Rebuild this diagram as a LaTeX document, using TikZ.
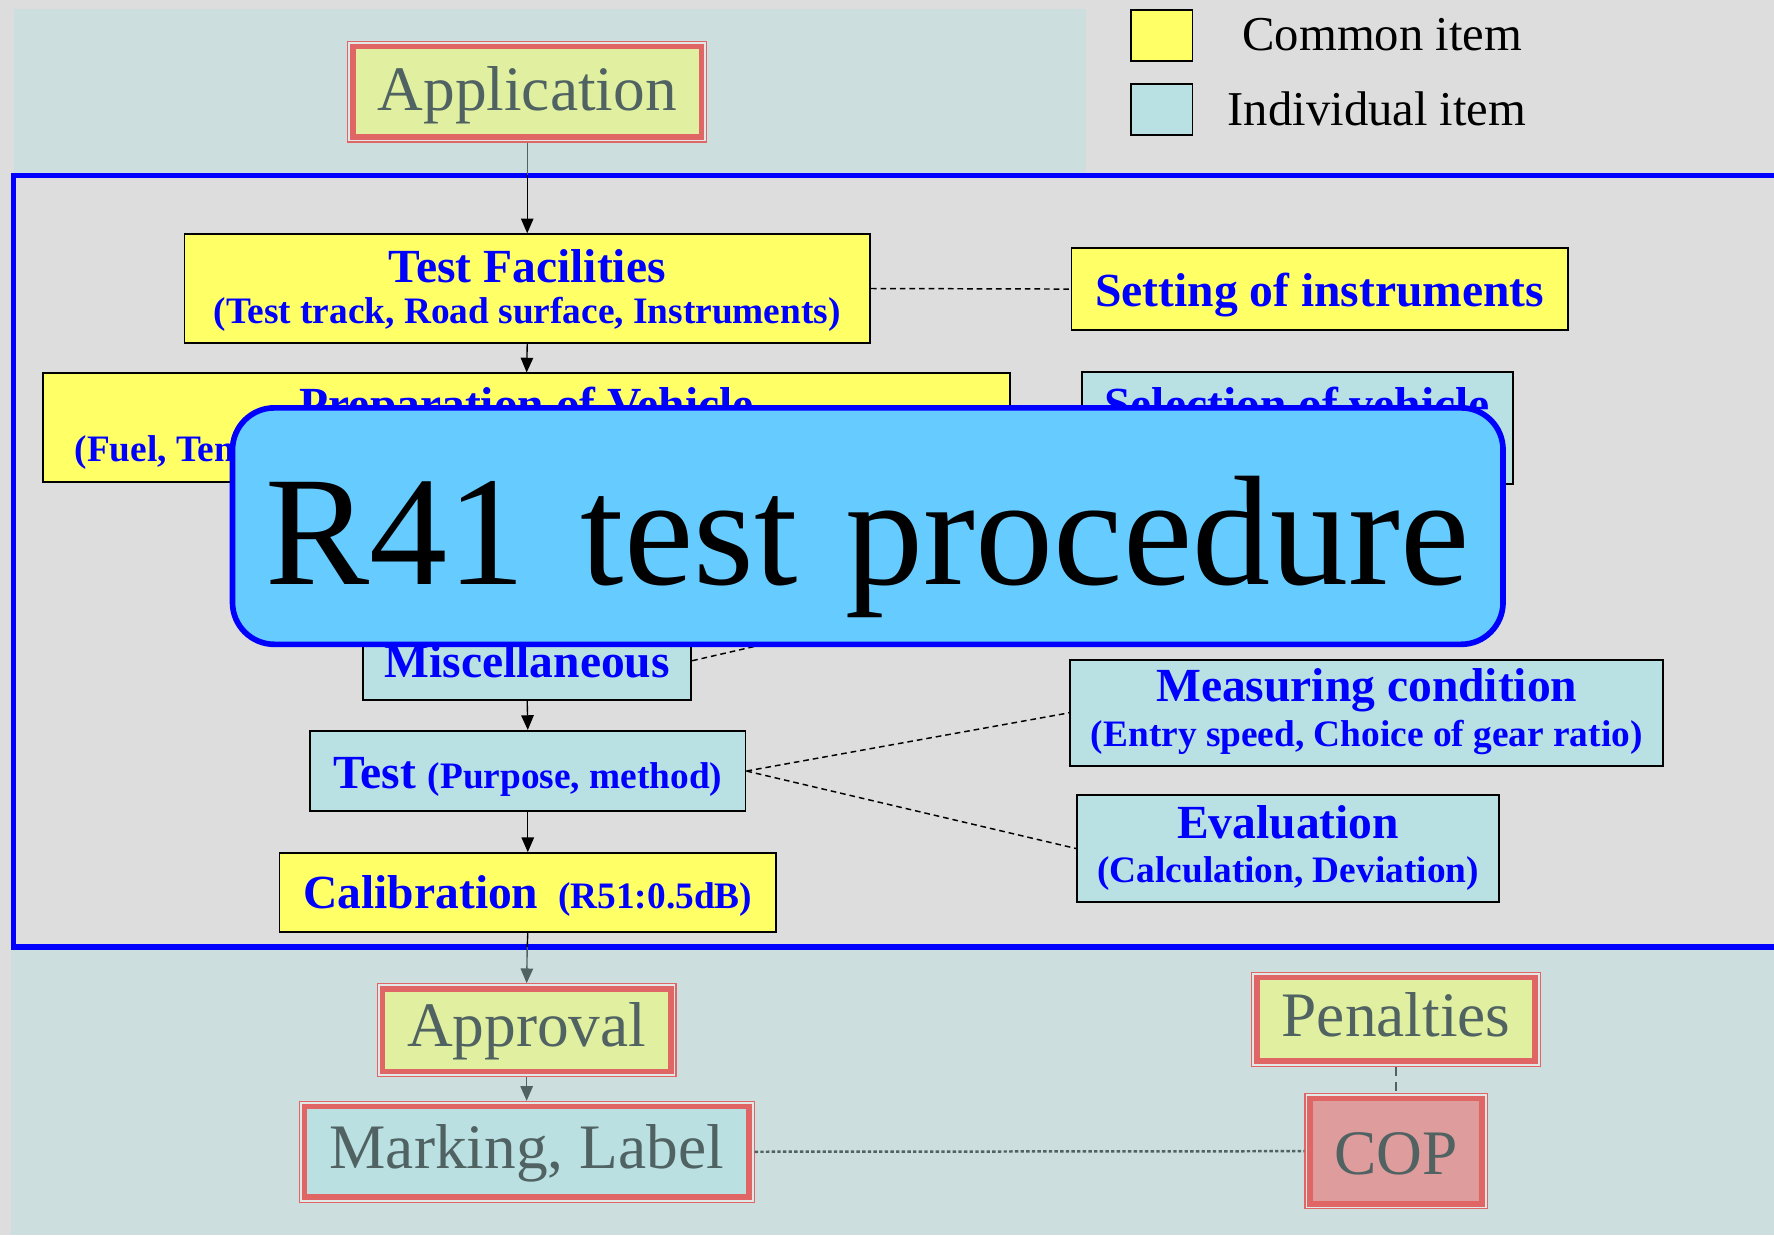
\documentclass[tikz,border=0pt]{standalone}
\usepackage{fontspec}
\setmainfont{Liberation Serif}
\usetikzlibrary{arrows.meta}
\definecolor{bgc}{RGB}{221,221,221}
\definecolor{bandc}{RGB}{204,222,222}
\definecolor{yel}{RGB}{255,255,102}
\definecolor{cya}{RGB}{185,224,227}
\definecolor{fyel}{RGB}{224,240,160}
\definecolor{fcya}{RGB}{186,224,226}
\definecolor{fred}{RGB}{224,102,102}
\definecolor{gapc}{RGB}{226,232,232}
\definecolor{copfill}{RGB}{222,156,156}
\definecolor{fgray}{RGB}{80,98,98}
\definecolor{ovlc}{RGB}{102,204,255}
\newcommand\twol[3]{\vbox{\baselineskip=#3\lineskiplimit=-1000pt\lineskip=0pt\halign{\hfil##\hfil\cr#1\cr#2\cr}}}
\newcommand\ttlf{\fontsize{42}{48}\selectfont\bfseries}
\newcommand\subf{\fontsize{33}{38}\selectfont\bfseries}
\newcommand\bigf{\fontsize{56}{64}\selectfont}
\newcommand\legf{\fontsize{43}{50}\selectfont}
\tikzset{
  ybox/.style={draw=black, line width=1.6pt, fill=yel, text=blue, inner sep=0pt, text depth=0pt},
  cbox/.style={ybox, fill=cya},
  bandbox/.style={fill=#1, draw=fred, line width=5pt, inner sep=0pt, outer sep=5pt, text=fgray, text depth=0pt,
    preaction={draw=fred, line width=10pt}, preaction={draw=gapc, line width=8pt}},
  ovl/.style={draw=blue, line width=5pt, fill=ovlc, rounded corners=37pt, inner sep=0pt, text depth=0pt},
  arr/.style={line width=1.2pt, -{Triangle[length=13pt,width=11pt]}},
  dashline/.style={line width=1.3pt, dash pattern=on 5pt off 3.5pt},
  legbox/.style={draw=black, line width=1.6pt, minimum width=54pt, minimum height=45pt, inner sep=0pt},
  legtext/.style={anchor=base west, inner sep=0pt, font=\legf}
}
\begin{document}
\begin{tikzpicture}[x=1pt, y=-1pt]
\useasboundingbox (0,0) rectangle (1568,1092);
\fill[bgc] (0,0) rectangle (1568,1092);
% faded bands
\fill[bandc] (12,8) rectangle (960,155);
\fill[bandc] (10,837) rectangle (1568,1092);
% blue frame
\draw[blue, line width=5pt] (1568,155) -- (12,155) -- (12,837) -- (1568,837);
% legend
\node[legbox, fill=yel] (ly) at (1027,31.5) {};
\node[legbox, fill=cya] (lc) at (1027,97) {};
\node[legtext] (lyt) at (1098,45) {Common item};
\node[legtext] (lct) at (1085,111) {Individual item};
% upper band
\node[bandbox=fyel, minimum width=308pt, minimum height=80pt, text height=34pt] (app) at (466,81) {\bigf Application};
% frame boxes
\node[ybox, minimum width=606pt, minimum height=96pt, text height=62pt] (tf) at (466,255)
  {\twol{\ttlf Test Facilities}{\subf (Test track, Road surface, Instruments)}{36pt}};
\node[ybox, minimum width=439pt, minimum height=73pt, text height=31pt] (set) at (1166.5,255.5) {\ttlf Setting of instruments};
\node[ybox, minimum width=855pt, minimum height=96pt, text height=60pt] (prep) at (465.5,378)
  {\twol{\ttlf Preparation of Vehicle}{\subf\makebox[799pt][l]{(Fuel, Temperature)}}{36pt}};
\node[cbox, minimum width=381pt, minimum height=99pt, text height=0pt, text depth=13pt] (sel) at (1146.5,378.5) {\ttlf Selection of vehicle};
\node[cbox, minimum width=290pt, minimum height=70pt, text height=30pt] (misc) at (466,584) {\ttlf Miscellaneous};
\node[cbox, minimum width=385pt, minimum height=71pt, text height=30pt] (test) at (466.5,681.5) {\ttlf Test \subf(Purpose, method)};
\node[ybox, minimum width=439pt, minimum height=70pt, text height=28pt] (cal) at (466.5,789) {\ttlf Calibration\hspace{7pt} \subf(R51:0.5dB)};
\node[cbox, minimum width=524pt, minimum height=94pt, text height=60pt] (meas) at (1208,630)
  {\twol{\ttlf Measuring condition}{\subf (Entry speed, Choice of gear ratio)}{40pt}};
\node[cbox, minimum width=373pt, minimum height=94pt, text height=60pt] (eval) at (1138.5,750)
  {\twol{\ttlf Evaluation}{\subf (Calculation, Deviation)}{39pt}};
% lower band
\node[bandbox=fyel, minimum width=255pt, minimum height=73pt, text height=29pt] (appr) at (465.5,910.5) {\bigf Approval};
\node[bandbox=fyel, minimum width=246pt, minimum height=74pt, text height=30pt] (pen) at (1234,901) {\bigf Penalties};
\node[bandbox=fcya, minimum width=393pt, minimum height=80pt, text height=30pt] (mark) at (465.5,1018) {\bigf Marking, Label};
\node[bandbox=copfill, minimum width=152pt, minimum height=93pt, text height=41pt] (cop) at (1234,1017.5) {\bigf COP};
% connector points
\coordinate (ftop) at (466,155);
\coordinate (fbot) at (466,837);
\coordinate (mh) at (1000,495);
% connectors
\draw[fgray, line width=1.2pt] (app.south) -- (ftop);
\draw[arr] (ftop) -- (tf.north);
\draw[arr] (tf.south) -- (prep.north);
\draw[arr] (misc.south) -- (test.north);
\draw[arr] (test.south) -- (cal.north);
\draw[line width=1.2pt] (cal.south) -- (fbot);
\draw[arr, fgray] (fbot) -- (appr.north);
\draw[arr, fgray] (appr.south) -- (mark.north);
\draw[dashline] (tf.east) -- (set.west);
\draw[dashline] (misc.east) -- (mh);
\draw[dashline] (test.east) -- (meas.west);
\draw[dashline] (test.east) -- (eval.west);
\draw[fgray, line width=1.4pt, dash pattern=on 8pt off 5pt] (pen.south) -- (cop.north);
\draw[fgray, line width=2.2pt, dash pattern=on 3pt off 2pt] (mark.east) -- (cop.west);
% overlay title
\node[ovl, minimum width=1123pt, minimum height=209pt, text height=104pt] (title) at (767,465)
  {\fontsize{138}{150}\selectfont R41\hspace{14pt} test\hspace{8pt} procedure};
\end{tikzpicture}
\end{document}
